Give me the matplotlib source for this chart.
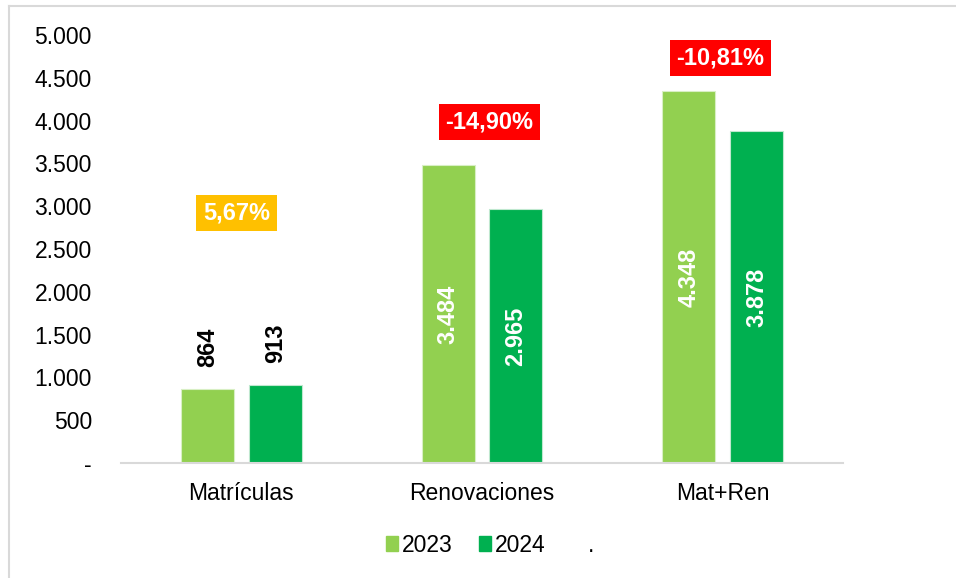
import matplotlib
matplotlib.use('Agg')
import numpy as np
import matplotlib.pyplot as plt
from matplotlib.patches import Patch
from matplotlib.lines import Line2D
from matplotlib.ticker import FuncFormatter

plt.rcParams['font.family'] = ['Liberation Sans', 'DejaVu Sans']

categories = ['Matrículas', 'Renovaciones', 'Mat+Ren']
years = ['2023', '2024']
vals_2023 = [864, 3484, 4348]
vals_2024 = [913, 2965, 3878]

col_2023 = '#92D050'
col_2024 = '#00B050'


def fmt_es(v):
    # Excel style: thousands with dot, zero as "-"
    if v == 0:
        return '-'
    return '{:,.0f}'.format(v).replace(',', '.')


fig = plt.figure(figsize=(9.56, 5.78), dpi=100)
ax = fig.add_axes([0.1266, 0.199, 0.7552, 0.7404])

x = np.arange(len(categories))
w = 0.22
off = 0.141
b1 = ax.bar(x - off, vals_2023, w, color=col_2023, edgecolor='#d8efc4', linewidth=0.8, label=years[0])
b2 = ax.bar(x + off, vals_2024, w, color=col_2024, edgecolor='#bfe8cf', linewidth=0.8, label=years[1])

# value labels: small bars get label above, big bars centered inside
for bars in (b1, b2):
    for rect in bars:
        h = rect.get_height()
        cx = rect.get_x() + rect.get_width() / 2
        if h < 1500:
            ax.text(cx, h + 260, fmt_es(h), rotation=90, ha='center', va='bottom',
                    fontsize=17, fontweight='bold', color='black')
        else:
            ax.text(cx, h / 2, fmt_es(h), rotation=90, ha='center', va='center',
                    fontsize=17, fontweight='bold', color='white')

# percentage change boxes
pct = [(b - a) / a * 100 for a, b in zip(vals_2023, vals_2024)]
box_y = [2920, 3985, 4730]
box_dx = [-0.02, 0.03, -0.01]
for i, p in enumerate(pct):
    txt = '{:.2f}%'.format(p).replace('.', ',')
    fc = '#FFC000' if p >= 0 else '#FF0000'
    ax.text(i + box_dx[i], box_y[i], txt, ha='center', va='center', fontsize=17,
            fontweight='bold', color='white',
            bbox=dict(boxstyle='square,pad=0.28', fc=fc, ec='none'))

ax.set_xlim(-0.5, 2.5)
ax.set_ylim(0, 5000)
ax.set_yticks(np.arange(0, 5001, 500))
ax.yaxis.set_major_formatter(FuncFormatter(lambda v, p: fmt_es(v)))
ax.set_xticks(x)
ax.set_xticklabels(categories)
ax.tick_params(axis='both', length=0, labelsize=16.5, colors='black')
ax.tick_params(axis='y', pad=21)
ax.tick_params(axis='x', pad=14)
for s in ['top', 'right', 'left']:
    ax.spines[s].set_visible(False)
ax.spines['bottom'].set_color('#d9d9d9')
ax.spines['bottom'].set_linewidth(1.5)
for lbl in ax.get_yticklabels():
    lbl.set_horizontalalignment('right')

handles = [Patch(color=col_2023), Patch(color=col_2024), Patch(color='none')]
fig.legend(handles, years + ['.'], loc='center', bbox_to_anchor=(0.513, 0.057), ncol=3,
           frameon=False, fontsize=16.5, handlelength=0.5, handleheight=0.6,
           handletextpad=0.2, columnspacing=1.15)

# outer chart border (only top and left visible)
fig.add_artist(Line2D([0.0089, 1.0], [0.9896, 0.9896], color='#d9d9d9', lw=1.5))
fig.add_artist(Line2D([0.0089, 0.0089], [0.0, 0.9896], color='#d9d9d9', lw=1.5))

fig.savefig('out.png', dpi=100)
